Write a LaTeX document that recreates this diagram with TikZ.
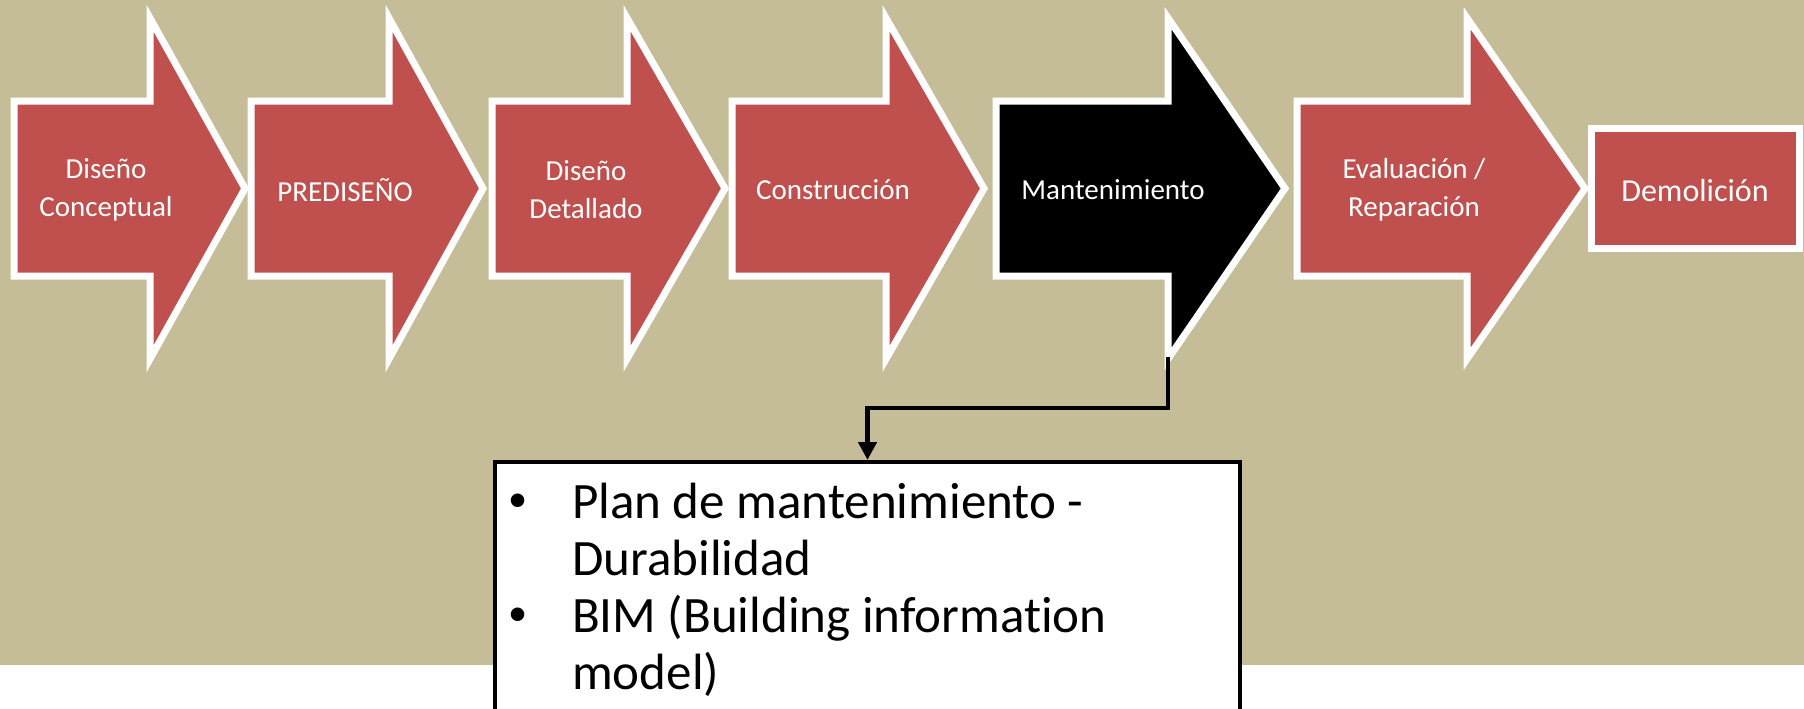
\documentclass[tikz,border=0pt]{standalone}
\usepackage{fontspec}
\setmainfont[Ligatures=NoCommon]{Carlito}
\usetikzlibrary{arrows.meta,shadows}
\definecolor{bgtan}{HTML}{C4BD97}
\definecolor{stepred}{HTML}{C0504D}
\tikzset{
  stepshape/.style={fill=stepred, draw=white, line width=7pt, line join=miter,
    drop shadow={shadow xshift=2pt, shadow yshift=-3pt, opacity=0.35, fill=black!70}},
  blackshape/.style={stepshape, fill=black},
  steptext/.style={text=white, align=center, font=\fontsize{29}{38}\selectfont, inner sep=0pt},
  conn/.style={draw=black, line width=4.5pt, -{Triangle[length=18pt,width=18pt]}},
  infobox/.style={draw=black, line width=4pt, fill=white, minimum width=745pt, minimum height=300pt, anchor=north, inner sep=0pt}
}
\newcommand{\phasearrow}[4]{%
  \path[#1] (#2,101) -- (#3,101) -- (#3,18) -- (#4,188.5) -- (#3,359) -- (#3,276) -- (#2,276) -- cycle;}
\newcommand{\smallbullet}{\raisebox{0.12em}{\scalebox{0.75}{\textbullet}}}
\begin{document}
\begin{tikzpicture}[x=1pt,y=-1pt]
\useasboundingbox (0,0) rectangle (1804,709);
\clip (0,0) rectangle (1804,709);
\fill[bgtan] (0,0) rectangle (1804,665);
% arrows
\phasearrow{stepshape}{14}{150}{245}
\phasearrow{stepshape}{251}{389}{483}
\phasearrow{stepshape}{492}{627}{725}
\phasearrow{stepshape}{732}{886}{984}
\phasearrow{blackshape}{996}{1168}{1285}
\phasearrow{stepshape}{1297}{1467}{1585}
\path[stepshape] (1591,128) rectangle (1799,248);
% texts
\node[steptext] (t1) at (106,190) {Diseño\\Conceptual};
\node[steptext] (t2) at (345,190) {PREDISEÑO};
\node[steptext] (t3) at (586,190) {Diseño\\Detallado};
\node[steptext] (t4) at (833,190) {Construcción};
\node[steptext] (t5) at (1113,190) {Mantenimiento};
\node[steptext] (t6) at (1414,190) {Evaluación /\\Reparación};
\node[steptext, font=\fontsize{32}{38}\selectfont] (t7) at (1695,190) {Demolición};
% info box
\node[infobox] (info) at (867.5,460) {};
\node[anchor=north west, inner sep=0pt, align=left, font=\fontsize{51}{57}\selectfont] (infotext) at (508,478)
  {\begin{tabular}{@{}p{64pt}@{}l@{}}
   \smallbullet & Plan de mantenimiento -\\
               & Durabilidad\\
   \smallbullet & BIM (Building information\\
               & model)
   \end{tabular}};
% connector
\coordinate (mbot) at (1168,357);
\draw[conn] (mbot) -- ++(0,51) -| (info.north);
\end{tikzpicture}
\end{document}
